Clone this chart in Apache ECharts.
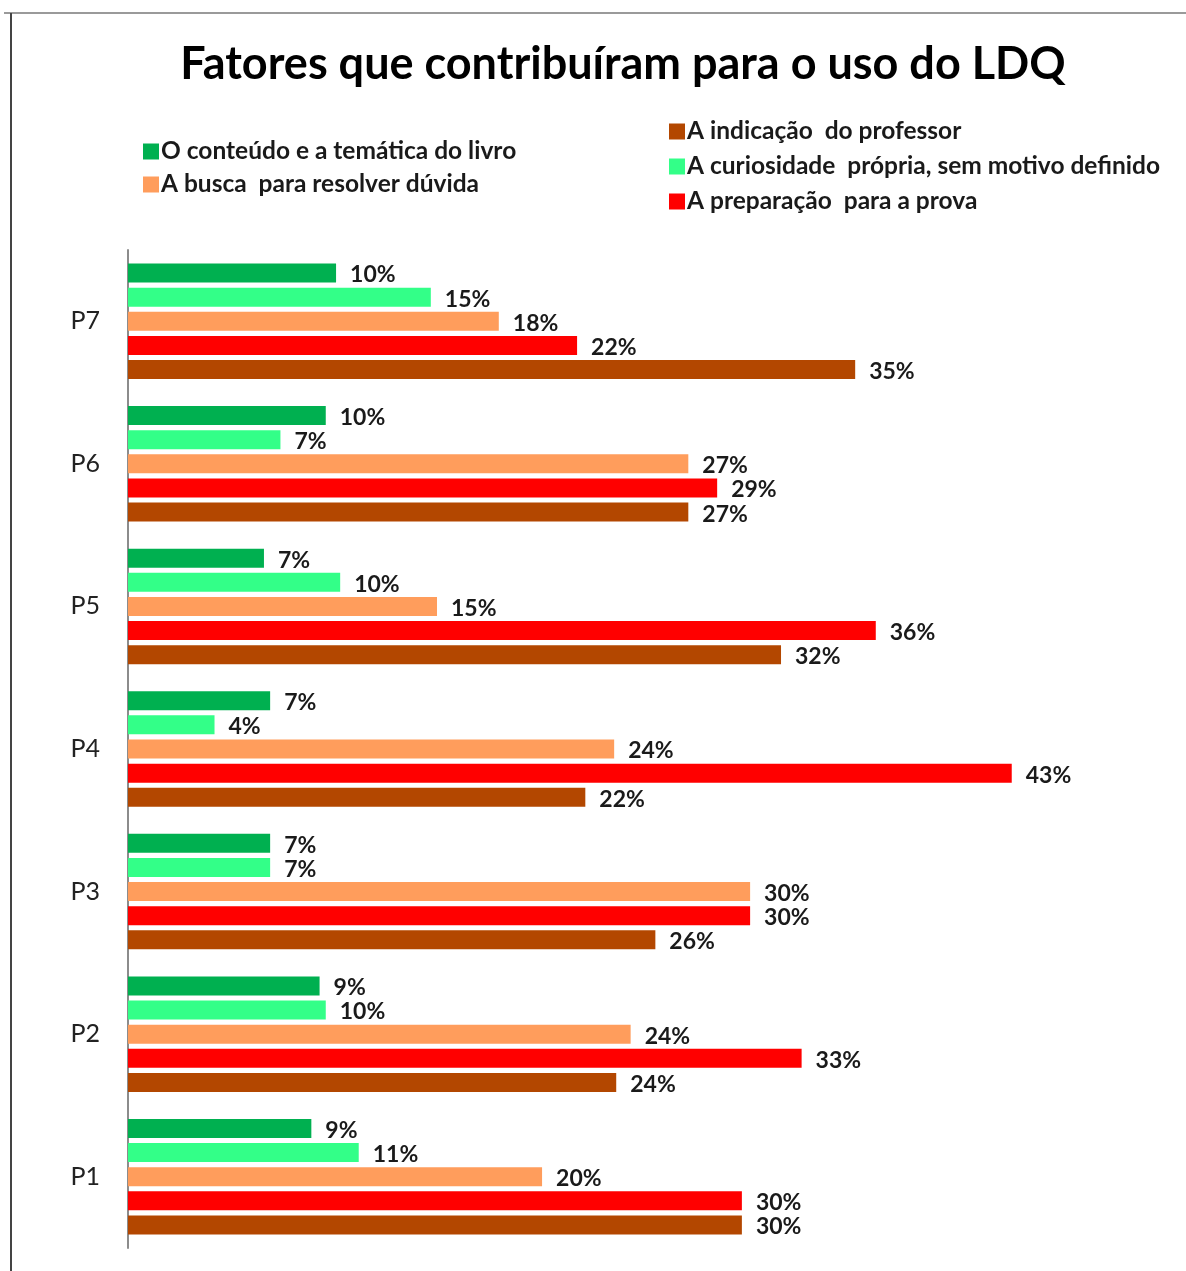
<!DOCTYPE html>
<html>
<head>
<meta charset="utf-8">
<script src="https://cdn.jsdelivr.net/npm/echarts@6/dist/echarts.min.js"></script>
<style>
html,body{margin:0;padding:0;background:#fff;}
#chart{width:1186px;height:1271px;}
</style>
</head>
<body>
<div id="chart"></div>
<script>
// Categories (bottom to top)
var categories = ['P1', 'P2', 'P3', 'P4', 'P5', 'P6', 'P7'];
// Series values (%) for P1..P7 (labels show rounded values)
var conteudo     = [8.9, 9.3, 6.9, 6.9, 6.6, 9.6, 10.1];      // O conteúdo e a temática do livro
var curiosidade  = [11.2, 9.6, 6.9, 4.2, 10.3, 7.4, 14.7];    // A curiosidade própria, sem motivo definido
var busca        = [20.1, 24.4, 30.2, 23.6, 15.0, 27.2, 18.0]; // A busca para resolver dúvida
var preparacao   = [29.8, 32.7, 30.2, 42.9, 36.3, 28.6, 21.8]; // A preparação para a prova
var indicacao    = [29.8, 23.7, 25.6, 22.2, 31.7, 27.2, 35.3]; // A indicação do professor

var names = {
  conteudo: 'O conteúdo e a temática do livro',
  curiosidade: 'A curiosidade  própria, sem motivo definido',
  busca: 'A busca  para resolver dúvida',
  preparacao: 'A preparação  para a prova',
  indicacao: 'A indicação  do professor'
};
var colors = {
  conteudo: '#00b050',
  curiosidade: '#33ff88',
  busca: '#ff9d5c',
  preparacao: '#ff0000',
  indicacao: '#b34700'
};

var FONT = 'Lato';
function mk(key, data) {
  return {
    name: names[key],
    type: 'bar',
    data: data,
    barWidth: 19,
    barGap: '27%',
    itemStyle: { color: colors[key] },
    label: {
      show: true,
      position: 'right',
      distance: 14,
      offset: [0, 2],
      formatter: function (p) { return Math.round(p.value) + '%'; },
      fontFamily: FONT,
      fontWeight: 'bold',
      fontSize: 23,
      color: '#1a1a1a'
    }
  };
}

var chart = echarts.init(document.getElementById('chart'));
var legendText = { fontFamily: FONT, fontWeight: 'bold', fontSize: 24.5, lineHeight: 24, color: '#1a1a1a', padding: [0, 0, 0, -3] };
chart.setOption({
  animation: false,
  backgroundColor: '#fff',
  title: {
    text: 'Fatores que contribuíram para o uso do LDQ',
    left: 618, textAlign: 'center',
    top: 37,
    textStyle: { fontFamily: FONT, fontWeight: 'bold', fontSize: 45, color: '#000' }
  },
  legend: [{
    orient: 'vertical',
    left: 138, top: 134,
    itemWidth: 16, itemHeight: 16, itemGap: 8,
    icon: 'rect',
    data: [names.conteudo, names.busca],
    textStyle: legendText,
    selectedMode: false
  }, {
    orient: 'vertical',
    left: 664, top: 114,
    itemWidth: 16, itemHeight: 16, itemGap: 10,
    icon: 'rect',
    data: [names.indicacao, names.curiosidade, names.preparacao],
    textStyle: legendText,
    selectedMode: false
  }],
  grid: { left: 128, top: 250, right: 28, bottom: 23, containLabel: false },
  xAxis: {
    type: 'value', min: 0, max: 50, interval: 10,
    axisLine: { show: false }, axisTick: { show: false },
    axisLabel: { show: false }, splitLine: { show: false }
  },
  yAxis: {
    type: 'category',
    data: categories,
    axisLine: { show: true, lineStyle: { color: '#8c8c8c', width: 2 } },
    axisTick: { show: false },
    axisLabel: { fontFamily: FONT, fontSize: 25, color: '#222', margin: 28 }
  },
  graphic: [
    { type: 'line', shape: { x1: 4, y1: 13, x2: 1186, y2: 13 }, style: { stroke: '#9a9a9a', lineWidth: 2 } },
    { type: 'line', shape: { x1: 11, y1: 13, x2: 11, y2: 1271 }, style: { stroke: '#444', lineWidth: 2 } }
  ],
  series: [
    mk('conteudo', conteudo),
    mk('curiosidade', curiosidade),
    mk('busca', busca),
    mk('preparacao', preparacao),
    mk('indicacao', indicacao)
  ]
});
</script>
</body>
</html>
